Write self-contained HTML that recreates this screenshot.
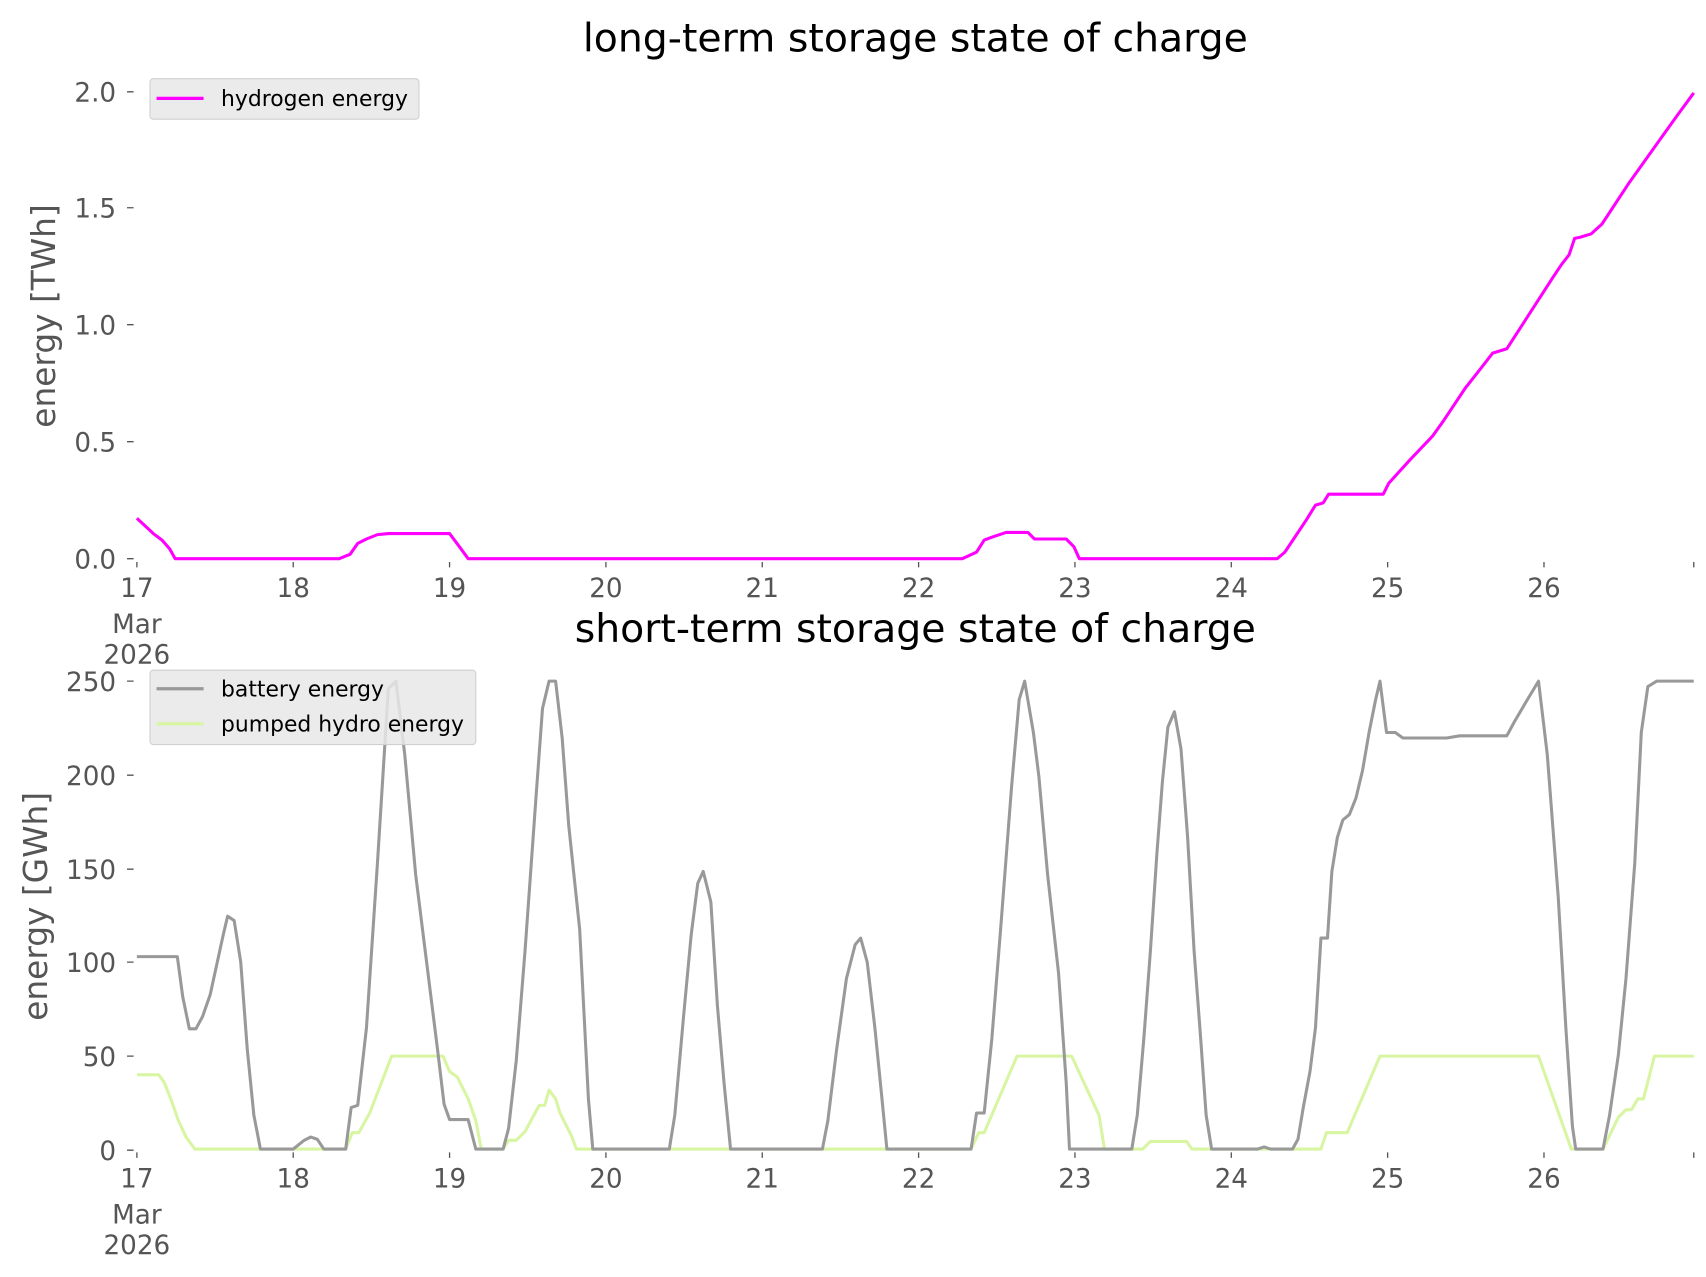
<!DOCTYPE html>
<html><head><meta charset="utf-8"><style>html,body{margin:0;padding:0;background:#fff}svg{display:block}</style></head><body>
<svg width="1706" height="1277" viewBox="0 0 1560 1168" xmlns="http://www.w3.org/2000/svg" font-family="'DejaVu Sans','Liberation Sans',sans-serif">
<rect width="1560" height="1168" fill="#fff"/>
<text x="837" y="47" font-size="36" text-anchor="middle" fill="#000">long-term storage state of charge</text>
<text x="837" y="587" font-size="36" text-anchor="middle" fill="#000">short-term storage state of charge</text>
<text transform="translate(50,289) rotate(-90)" font-size="30" text-anchor="middle" fill="#555">energy [TWh]</text>
<text transform="translate(43,829) rotate(-90)" font-size="30" text-anchor="middle" fill="#555">energy [GWh]</text>
<g font-size="24" fill="#555" text-anchor="end">
<text x="106" y="520">0.0</text><text x="106" y="413">0.5</text><text x="106" y="306">1.0</text><text x="106" y="199">1.5</text><text x="106" y="93">2.0</text>
<text x="106" y="1061">0</text><text x="106" y="975">50</text><text x="106" y="889">100</text><text x="106" y="804">150</text><text x="106" y="718">200</text><text x="106" y="632">250</text>
</g>
<g stroke="#555" stroke-width="1.2">
<path d="M116 511h6M116 404h6M116 297h6M116 190h6M116 84h6M116 1052h6M116 966h6M116 880h6M116 795h6M116 709h6M116 623h6"/>
<path d="M125 514v5M268 514v5M411 514v5M554 514v5M697 514v5M840 514v5M983 514v5M1126 514v5M1269 514v5M1412 514v5M1549 514v5"/>
<path d="M125 1054v5M268 1054v5M411 1054v5M554 1054v5M697 1054v5M840 1054v5M983 1054v5M1126 1054v5M1269 1054v5M1412 1054v5M1549 1054v5"/>
</g>
<g font-size="24" fill="#555" text-anchor="middle">
<text x="125" y="546">17</text><text x="125" y="579">Mar</text><text x="125" y="607">2026</text>
<text x="268" y="546">18</text><text x="411" y="546">19</text><text x="554" y="546">20</text><text x="697" y="546">21</text><text x="840" y="546">22</text><text x="983" y="546">23</text><text x="1126" y="546">24</text><text x="1269" y="546">25</text><text x="1412" y="546">26</text>
<text x="125" y="1086">17</text><text x="125" y="1119">Mar</text><text x="125" y="1147">2026</text>
<text x="268" y="1086">18</text><text x="411" y="1086">19</text><text x="554" y="1086">20</text><text x="697" y="1086">21</text><text x="840" y="1086">22</text><text x="983" y="1086">23</text><text x="1126" y="1086">24</text><text x="1269" y="1086">25</text><text x="1412" y="1086">26</text>
</g>
<g fill="none" stroke-width="2.8" stroke-linejoin="round">
<polyline stroke="#ff00ff" points="125,474 140,488 148,494 155,502 160,511 310,511 320,507 327,497 335,493 345,489 355,488 411,488 420,500 428,511 880,511 893,505 900,494 908,491 920,487 940,487 946,493 975,493 982,500 987,511 1168,511 1175,505 1185,490 1195,475 1203,462 1210,460 1215,452 1265,452 1270,442 1290,420 1310,399 1320,385 1340,355 1355,336 1365,323 1378,319 1400,285 1420,254 1428,242 1435,233 1440,218 1445,217 1455,214 1465,205 1490,167 1520,125 1535,104 1549,85"/>
<polyline stroke="#d8f5a2" points="125,983 145,983 150,990 156,1005 163,1025 170,1040 178,1051 316,1051 322,1036 328,1036 338,1018 358,966 405,966 411,980 418,985 428,1005 435,1025 440,1051 460,1051 465,1043 472,1043 480,1035 487,1022 493,1011 498,1011 502,997 508,1005 512,1018 518,1030 523,1040 527,1051 888,1051 895,1036 900,1036 930,966 980,966 1005,1020 1010,1051 1045,1051 1052,1044 1085,1044 1090,1051 1208,1051 1213,1036 1232,1036 1262,966 1407,966 1437,1051 1466,1051 1480,1022 1487,1015 1492,1015 1498,1005 1503,1005 1513,966 1549,966"/>
<polyline stroke="#999" points="125,875 162,875 167,912 173,941 179,941 185,930 192,910 204,855 208,838 214,842 220,880 226,960 232,1020 238,1051 268,1051 278,1043 284,1040 290,1042 296,1051 316,1051 321,1013 327,1011 335,940 345,790 355,630 362,623 370,690 380,800 390,880 400,960 406,1010 411,1024 428,1024 435,1051 460,1051 465,1032 472,970 480,870 490,730 496,648 502,623 508,623 514,675 520,755 530,850 538,1005 542,1051 612,1051 617,1020 625,930 632,855 638,808 643,797 650,825 656,920 662,990 668,1051 752,1051 757,1025 765,960 774,895 782,864 787,858 793,880 800,940 806,1000 811,1051 888,1051 893,1018 900,1018 907,950 915,850 925,720 932,640 937,623 945,670 950,710 958,800 968,890 975,990 978,1051 1005,1051 1035,1051 1040,1020 1046,950 1052,870 1058,780 1063,715 1068,665 1074,651 1080,685 1086,765 1092,870 1098,950 1103,1020 1108,1051 1150,1051 1156,1049 1162,1051 1182,1051 1187,1042 1192,1012 1198,980 1203,940 1208,858 1214,858 1218,797 1223,766 1228,750 1234,745 1240,730 1246,705 1252,670 1258,640 1262,623 1268,670 1276,670 1283,675 1323,675 1335,673 1378,673 1385,660 1395,643 1407,623 1415,690 1425,820 1432,940 1438,1030 1441,1051 1466,1051 1472,1020 1480,965 1487,895 1495,790 1501,670 1507,628 1515,623 1549,623"/>
</g>
<g>
<rect x="137" y="72" width="246" height="37" rx="3" fill="#e8e8e8" fill-opacity="0.85" stroke="#d0d0d0"/>
<line x1="143" y1="90" x2="186" y2="90" stroke="#ff00ff" stroke-width="3"/>
<text x="202" y="97" font-size="20" fill="#000">hydrogen energy</text>
<rect x="137" y="613" width="298" height="68" rx="3" fill="#e8e8e8" fill-opacity="0.85" stroke="#d0d0d0"/>
<line x1="143" y1="630" x2="186" y2="630" stroke="#999" stroke-width="3"/>
<text x="202" y="637" font-size="20" fill="#000">battery energy</text>
<line x1="143" y1="662" x2="186" y2="662" stroke="#d8f5a2" stroke-width="3"/>
<text x="202" y="669" font-size="20" fill="#000">pumped hydro energy</text>
</g>
</svg>
</body></html>
